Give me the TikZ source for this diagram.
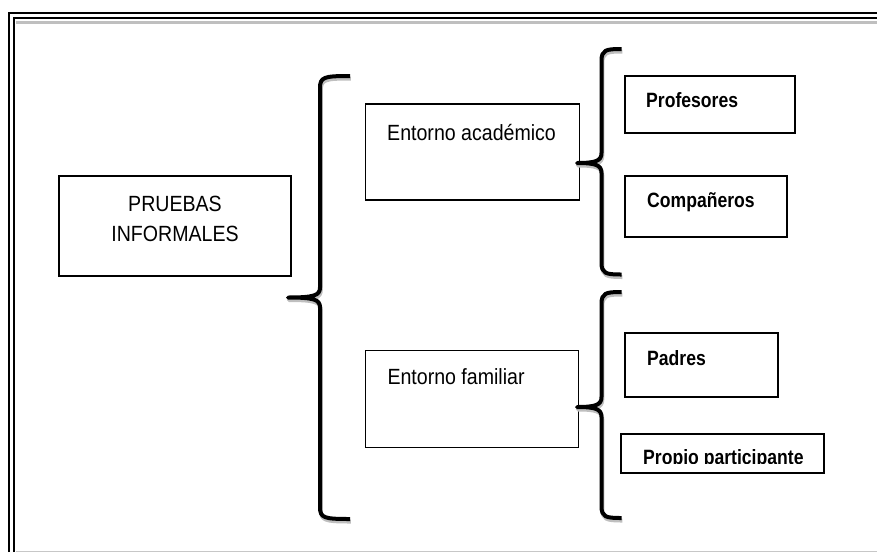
\documentclass[tikz,border=0pt]{standalone}
\usepackage{fontspec}
\newfontfamily\regf{Liberation Sans}[FakeStretch=0.89]
\newfontfamily\boldf{Liberation Sans}[FakeStretch=0.85]
\begin{document}
\begin{tikzpicture}[x=1pt,y=-1pt,
  thinbox/.style={draw=black, line width=1.2pt, rectangle, inner sep=0pt},
  boldbox/.style={draw=black, line width=1.7pt, rectangle, inner sep=0pt},
  regtext/.style={inner sep=0pt, font=\regf\fontsize{22}{29.5}\selectfont},
  boldtext/.style={inner sep=0pt, anchor=base west, font=\boldf\bfseries\fontsize{20.7}{24}\selectfont},
  bracestroke/.style={line width=4pt, line join=round, black},
  braceshadow/.style={line width=4pt, line join=round, black!25}]
\useasboundingbox (0,0) rectangle (877,552);

% page frame: double rule on top and left, soft rules below
\draw[black!25, line width=2.5pt] (16,22.5) -- (877,22.5);
\draw[black!22, line width=1pt] (16,551) -- (877,551);
\draw[line width=2pt] (9,552) -- (9,12.7) -- (877,12.7);
\draw[line width=2pt] (14,552) -- (14,18) -- (877,18);

% boxes
\node[thinbox, minimum width=232, minimum height=100] (pruebas) at (175,226) {};
\node[thinbox, minimum width=214, minimum height=96] (acad) at (472.5,152) {};
\node[thinbox, minimum width=213, minimum height=97] (fam) at (472.3,399) {};
\node[boldbox, minimum width=170, minimum height=57] (prof) at (710,104.5) {};
\node[boldbox, minimum width=162, minimum height=61] (comp) at (706,206.5) {};
\node[boldbox, minimum width=153, minimum height=64] (padres) at (701.5,365) {};
\node[boldbox, minimum width=203, minimum height=39] (propio) at (722.5,453.5) {};

% texts
\node[regtext, anchor=base] (pruebastxt) at (175,211.7) {PRUEBAS};
\node[regtext, anchor=base] (informtxt) at (175,241) {INFORMALES};
\node[regtext, anchor=base west] (acadtxt) at (387,140) {Entorno académico};
\node[regtext, anchor=base west] (famtxt) at (387.3,384.3) {Entorno familiar};
\node[boldtext] (proftxt) at (646,107) {Profesores};
\node[boldtext] (comptxt) at (647,207.7) {Compañeros};
\node[boldtext] (padrestxt) at (647,365) {Padres};
\begin{scope}
  \clip (622,436) rectangle (823,463.3);
  \node[boldtext] (propiotxt) at (643,464.5) {Propio participante};
\end{scope}

% curly braces: #1 spine x, #2 top y, #3 hook end x, #4 tip x, #5 tip y, #6 bottom y
\newcommand\curlybrace[6]{%
  (#3,#2) .. controls (#1+4,#2) and (#1,#2+1) .. (#1,#2+12)
  -- (#1,#5-10) .. controls (#1,#5-2) and (#1-6,#5) .. (#4,#5)
  .. controls (#1-6,#5) and (#1,#5+2) .. (#1,#5+10)
  -- (#1,#6-12) .. controls (#1,#6-1) and (#1+4,#6) .. (#3,#6)}

\begin{scope}[shift={(0.8,2.5)}]
  \draw[braceshadow] \curlybrace{320}{76}{350}{288}{297.5}{519};
  \draw[braceshadow] \curlybrace{601.5}{49}{621.5}{577}{163}{274.5};
  \draw[braceshadow] \curlybrace{601.5}{292}{621.5}{577}{407}{518};
\end{scope}
\draw[bracestroke] \curlybrace{320}{76}{350}{288}{297.5}{519};
\draw[bracestroke] \curlybrace{601.5}{49}{621.5}{577}{163}{274.5};
\draw[bracestroke] \curlybrace{601.5}{292}{621.5}{577}{407}{518};
\end{tikzpicture}
\end{document}
